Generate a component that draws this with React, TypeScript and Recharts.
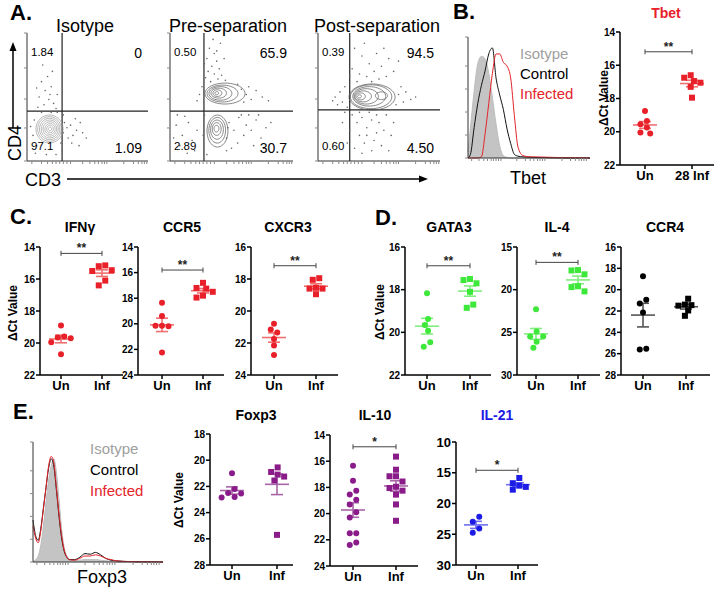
import React from "react";
import {
  ScatterChart,
  Scatter,
  XAxis,
  YAxis,
  ReferenceLine,
  ReferenceDot,
  ComposedChart,
  Area,
  Line,
} from "recharts";

const FONT = '"Liberation Sans", Arial, Helvetica, sans-serif';

// ---------- A. CD3 / CD4 flow plots (axis units 0-100)
const quadIsotype = ["1.84", "0", "97.1", "1.09"];
const quadPre = ["0.50", "65.9", "2.89", "30.7"];
const quadPost = ["0.39", "94.5", "0.60", "4.50"];

type Ring = [number, number, number, number]; // cx, cy, rx, ry

const ringsIsotype: Ring[] = [
  [18.6, 25, 11.2, 10.9], [18.6, 25, 9.8, 9.6], [18.7, 25, 8.4, 8.3], [18.8, 25, 7, 7],
  [18.9, 25, 5.6, 5.6], [19, 25, 4.2, 4.2], [19, 25, 2.8, 2.8], [19, 25, 1.4, 1.4],
];
const ringsPre: Ring[] = [
  [44.7, 52.7, 16.3, 8.2], [42.7, 52.7, 12.6, 6.6], [41, 52.8, 9.3, 5.3], [39.6, 53, 6.3, 3.9],
  [38.5, 53, 3.6, 2.6], [38, 53, 1.5, 1.2],
  [38.6, 23.4, 8.5, 12.5], [38.4, 24, 6.8, 10], [38.2, 24.5, 5.2, 7.5], [38, 25, 3.6, 5], [37.8, 25.3, 2, 2.6],
];
const ringsPost: Ring[] = [
  [44.3, 50, 18.9, 10.2], [43.5, 50.2, 17, 9.3], [42, 50.5, 13.5, 7.6], [39.5, 50.5, 10, 6],
  [37, 50.5, 6.8, 4.3], [35, 50.5, 3.8, 2.7], [34, 50.5, 1.6, 1.2], [52, 51, 5, 3],
];

const eventsIsotype: [number, number][] = [
  [12, 62], [15, 55], [20, 58], [10, 50], [18, 48], [22, 45], [14, 44], [25, 52], [8, 57], [17, 66],
  [21, 70], [13, 75], [24, 41], [9, 42], [19, 52], [5, 20], [6, 32], [8, 12], [30, 22], [31, 30],
  [28, 14], [25, 38], [12, 38], [20, 38], [33, 26], [29, 8], [7, 6], [16, 5], [24, 5], [3, 27],
  [34, 18], [30, 36], [36, 28], [38, 20], [41, 24], [44, 30], [37, 14], [40, 33], [46, 22], [49, 18], [43, 12],
];
const eventsPre: [number, number][] = [
  [32, 88], [36, 84], [30, 80], [38, 78], [34, 74], [40, 72], [31, 70], [36, 68], [42, 67], [29, 65],
  [33, 62], [45, 63], [38, 86], [41, 92], [35, 95], [28, 76], [44, 80], [39, 64], [58, 56], [62, 52],
  [66, 48], [70, 55], [60, 46], [75, 50], [55, 60], [80, 47], [64, 58], [24, 52], [26, 58], [22, 47],
  [48, 30], [52, 24], [56, 34], [60, 20], [55, 14], [62, 28], [66, 24], [70, 32], [74, 18], [68, 12],
  [78, 26], [50, 10], [58, 36], [72, 36], [82, 30], [46, 18], [64, 36], [76, 10], [5, 28], [10, 20],
  [15, 30], [8, 12], [12, 35], [18, 16], [3, 18], [20, 8], [14, 6], [22, 24], [6, 36], [28, 36],
  [47, 26], [30, 5], [46, 8], [27, 20],
];
const eventsPost: [number, number][] = [
  [30, 88], [36, 82], [42, 76], [48, 84], [28, 72], [34, 68], [40, 66], [46, 70], [52, 74], [58, 80],
  [38, 92], [44, 62], [56, 66], [62, 70], [32, 62], [26, 66], [50, 64], [66, 78], [54, 88], [14, 50],
  [18, 54], [20, 46], [16, 44], [22, 58], [12, 47], [24, 42], [66, 52], [70, 46], [64, 44], [72, 54],
  [76, 48], [68, 58], [80, 50], [28, 36], [32, 30], [36, 34], [40, 26], [44, 32], [48, 22], [34, 20],
  [38, 14], [42, 38], [46, 16], [50, 30], [54, 24], [30, 10], [36, 6], [44, 8], [52, 12], [56, 36],
  [60, 20], [58, 8], [62, 30], [40, 20], [26, 24], [48, 36], [34, 38], [20, 30], [24, 14], [22, 38],
];
const flowXTicks = [4, 12, 17, 21, 24, 27, 30, 33, 36, 46, 52, 56, 59, 62, 64, 66, 80, 88, 92, 95, 97, 99];
const flowYTicks = [0, 25.8, 48.4, 72.7, 100];

// ---------- B. Tbet histogram + qPCR
const tbetHistX = [0, 2, 5, 8, 11, 14, 17, 20, 23, 26, 29, 32, 35, 38, 41, 45, 50, 60, 70, 80, 90, 100];
const tbetIsotype = [5, 25, 55, 78, 84, 82, 70, 50, 28, 10, 2, 0.5, 0, 0, 0, 0, 0, 0, 0, 0, 0, 0];
const tbetControl = [0, 3, 25, 45, 60, 72, 86, 91, 66, 52, 40, 24, 12, 3, 1.5, 1, 0.6, 0.3, 0.2, 0, 0, 0];
const tbetInfected = [0, 0, 0, 0, 1, 20, 45, 70, 86, 86, 79, 76, 66, 35, 9, 2, 1, 0.8, 0.5, 0.3, 0.2, 0];
const histXTicks = [3, 9, 13, 16, 19, 21, 23, 25, 27, 40, 47, 51, 54, 57, 59, 61, 63, 77, 84, 88, 91, 93, 95, 97];

const tbetUn = [18.75, 19.35, 19.55, 19.75, 20.1, 20.05];
const tbetInf = [16.6, 16.75, 16.95, 17.05, 17.3, 17.95];

// ---------- C. Th1 genes
const ifngUn = [18.9, 19.65, 19.7, 19.6, 19.95, 20.7];
const ifngInf = [15.15, 15.2, 15.45, 15.5, 16.1, 16.4];
const ccr5Un = [18.35, 19.4, 20.15, 20.2, 20.15, 22.25];
const ccr5Inf = [16.8, 17.25, 17.2, 17.5, 17.95, 17.8];
const cxcr3Un = [20.8, 21.15, 21.35, 21.75, 22.15, 22.75];
const cxcr3Inf = [18.05, 17.95, 18.6, 18.55, 18.6, 18.95];

// ---------- D. Th2 genes
const gata3Un = [18.17, 19.38, 19.66, 19.92, 20.67, 20.47];
const gata3Inf = [17.5, 17.55, 17.7, 18.1, 18.7, 18.85];
const il4Un = [22.3, 24.9, 25.5, 25.5, 26.1, 26.8];
const il4Inf = [17.7, 17.75, 18.2, 19.6, 19.7, 20.2];
const ccr4Un = [18.75, 20.95, 21.3, 22.15, 25.6, 25.55];
const ccr4Inf = [20.85, 21.45, 21.5, 21.4, 21.95, 22.45];

// ---------- E. Foxp3 histogram + qPCR
const foxHistX = [0, 2, 4, 6, 8, 10, 12, 14, 16, 18, 20, 22, 24, 26, 28, 32, 36, 40, 44, 48, 52, 56, 60, 64, 70, 80, 100];
const foxIsotype = [0, 2, 5, 14, 30, 50, 68, 80, 86, 75, 52, 28, 12, 5, 2, 1, 1.5, 2, 2, 2, 1.5, 1, 0.5, 0, 0, 0, 0];
const foxControl = [35, 22, 18, 28, 45, 62, 78, 86, 80, 60, 38, 20, 9, 4, 2, 2, 4, 7, 6.5, 8, 6, 3, 1.5, 1, 0.5, 0.2, 0];
const foxInfected = [30, 20, 16, 26, 44, 62, 80, 88, 83, 62, 40, 22, 10, 4, 2, 1.5, 3, 5, 5, 6, 5, 3, 2, 1, 0.5, 0.2, 0];

const foxp3Un = [21.0, 22.2, 22.55, 22.5, 22.85, 22.8];
const foxp3Inf = [20.55, 20.9, 21.25, 21.1, 21.55, 25.7];
const il10Un = [16.35, 17.5, 18.25, 18.55, 18.95, 19.3, 19.9, 20.3, 21.5, 21.5, 22.2, 22.4];
const il10Inf = [15.65, 16.65, 17.15, 17.15, 17.55, 17.95, 18.05, 18.25, 18.55, 19.3, 20.55];
const il21Un = [22.15, 22.95, 24.05, 24.75];
const il21Inf = [15.85, 17.3, 17.1, 16.7, 17.75];

const RED = "#e8202a", RED_M = "#f07070";
const GREEN = "#3ee83a", GREEN_M = "#80ee7c";
const PURPLE = "#8a1c8a", PURPLE_M = "#a866a8";
const BLUE = "#1c1ce6", BLUE_M = "#7070ee";

function Txt({ x, y, size, bold, color = "#000", align = "center", rotate, children }: any) {
  const tx = align === "center" ? "-50%" : align === "right" ? "-100%" : "0";
  return (
    <div
      style={{
        position: "absolute", left: x, top: y, whiteSpace: "nowrap", lineHeight: 1,
        transform: `translate(${tx}, -50%)${rotate ? ` rotate(${rotate}deg)` : ""}`,
        fontSize: size, fontWeight: bold ? 700 : 400, color, fontFamily: FONT,
      }}
    >
      {children}
    </div>
  );
}

const noShape = () => <g />;

function ringPoints([cx, cy, rx, ry]: Ring) {
  const pts = [];
  for (let k = 0; k <= 48; k++) {
    const t = (k / 48) * Math.PI * 2;
    pts.push({ x: cx + rx * Math.cos(t), y: cy + ry * Math.sin(t) });
  }
  return pts;
}

function FlowPlot({ left, top, w, h, gx, gy, rings, events, quad, ringColor }: any) {
  const pts = events.map(([x, y]: [number, number]) => ({ x, y }));
  return (
    <>
      <div style={{ position: "absolute", left: left - 4, top: top - 1 }}>
        <ScatterChart width={4 + w + 1} height={1 + h + 4} margin={{ top: 1, right: 1, bottom: 0, left: 0 }}>
          <XAxis type="number" dataKey="x" domain={[0, 100]} ticks={flowXTicks} interval={0} tickFormatter={() => ""}
            height={4} tickSize={3} axisLine={{ stroke: "#333" }} tickLine={{ stroke: "#888" }} allowDataOverflow />
          <XAxis xAxisId="top" orientation="top" type="number" domain={[0, 100]} height={0}
            tick={false} tickLine={false} axisLine={{ stroke: "#333" }} />
          <YAxis type="number" dataKey="y" domain={[0, 100]} ticks={flowYTicks} interval={0} tickFormatter={() => ""}
            width={4} tickSize={3} axisLine={{ stroke: "#333" }} tickLine={{ stroke: "#888" }} allowDataOverflow />
          <YAxis yAxisId="right" orientation="right" type="number" domain={[0, 100]} width={0}
            tick={false} tickLine={false} axisLine={{ stroke: "#333" }} />
          <Scatter data={pts} isAnimationActive={false}
            shape={(p: any) => <circle cx={p.cx} cy={p.cy} r={0.8} fill="#666" />} />
          {rings.map((r: Ring, i: number) => (
            <Scatter key={i} data={ringPoints(r)} line={{ stroke: ringColor, strokeWidth: 0.7 }}
              lineType="joint" shape={noShape} isAnimationActive={false} />
          ))}
          <ReferenceLine x={gx} stroke="#222" strokeWidth={1.2} />
          <ReferenceLine y={gy} stroke="#222" strokeWidth={1.2} />
        </ScatterChart>
      </div>
      <Txt x={left + 4} y={53} size={11.5} align="left">{quad[0]}</Txt>
      <Txt x={left + w - 6} y={53} size={14} align="right">{quad[1]}</Txt>
      <Txt x={left + 4} y={147} size={11.5} align="left">{quad[2]}</Txt>
      <Txt x={left + w - 6} y={148} size={14} align="right">{quad[3]}</Txt>
    </>
  );
}

function Histo({ left, top, w, h, xs, iso, ctrl, inf }: any) {
  const data = xs.map((x: number, i: number) => ({ x, iso: iso[i], ctrl: ctrl[i], inf: inf[i] }));
  return (
    <div style={{ position: "absolute", left: left - 5, top: top - 1 }}>
      <ComposedChart width={5 + w + 1} height={1 + h + 5} data={data} margin={{ top: 1, right: 1, bottom: 0, left: 0 }}>
        <XAxis type="number" dataKey="x" domain={[0, 100]} ticks={histXTicks} interval={0} tickFormatter={() => ""}
          height={5} tickSize={3} axisLine={{ stroke: "#333" }} tickLine={{ stroke: "#888" }} />
        <XAxis xAxisId="top" orientation="top" type="number" domain={[0, 100]} height={0}
          tick={false} tickLine={false} axisLine={{ stroke: "#333" }} />
        <YAxis type="number" domain={[0, 100]} ticks={[0, 19, 38, 57, 76, 100]} interval={0} tickFormatter={() => ""}
          width={5} tickSize={3} axisLine={{ stroke: "#333" }} tickLine={{ stroke: "#888" }} />
        <YAxis yAxisId="right" orientation="right" type="number" domain={[0, 100]} width={0}
          tick={false} tickLine={false} axisLine={{ stroke: "#333" }} />
        <Area dataKey="iso" type="monotone" fill="#c4c4c4" fillOpacity={1} stroke="#bdbdbd" isAnimationActive={false} />
        <Line dataKey="ctrl" type="monotone" stroke="#111" strokeWidth={1} dot={false} isAnimationActive={false} />
        <Line dataKey="inf" type="monotone" stroke="#e3242b" strokeWidth={1} dot={false} isAnimationActive={false} />
      </ComposedChart>
    </div>
  );
}

// column scatter: nudge colliding points sideways, then centre each touching cluster
function swarm(vals: number[], pxY: number, d = 6.5) {
  const order = vals.map((_, i) => i).sort((a, b) => vals[a] - vals[b]);
  const off = vals.map(() => 0);
  const placed: { x: number; y: number }[] = [];
  const cands = [0, -d / 2, d / 2, -d, d, -1.5 * d, 1.5 * d, -2 * d, 2 * d];
  for (const i of order) {
    const y = vals[i] * pxY;
    for (const c of cands) {
      if (placed.every((p) => Math.hypot(p.x - c, p.y - y) >= d * 0.95)) {
        off[i] = c;
        placed.push({ x: c, y });
        break;
      }
    }
  }
  let k = 0;
  while (k < order.length) {
    const cl = [order[k]];
    let j = k + 1;
    while (j < order.length && (vals[order[j]] - vals[order[j - 1]]) * pxY < d) {
      cl.push(order[j]);
      j++;
    }
    const m = cl.reduce((a, idx) => a + off[idx], 0) / cl.length;
    cl.forEach((idx) => (off[idx] -= m));
    k = j;
  }
  return off;
}

const mean = (v: number[]) => v.reduce((a, b) => a + b, 0) / v.length;
const sem = (v: number[]) => {
  const m = mean(v);
  const sd = Math.sqrt(v.reduce((a, b) => a + (b - m) ** 2, 0) / (v.length - 1));
  return sd / Math.sqrt(v.length);
};

function DotPlot(p: any) {
  const YW = 34, MT = 12, XH = 28, MR = 2;
  const plotW = p.rightX - p.axisX, plotH = p.botY - p.topY;
  const unit = p.infX - p.unX;
  const xMin = 1 - (p.unX - p.axisX) / unit;
  const xMax = 2 + (p.rightX - p.infX) / unit;
  const pxY = plotH / (p.domain[1] - p.domain[0]);
  const groups = [p.un, p.inf].map((vals: number[], g: number) => {
    const off = swarm(vals, pxY);
    return {
      c: g + 1,
      pts: vals.map((v, i) => ({ x: g + 1 + off[i] / unit, y: v })),
      m: mean(vals),
      s: sem(vals),
    };
  });
  const ms = { stroke: p.meanColor, strokeWidth: 1.6 };
  const axisStyle = { stroke: "#000", strokeWidth: 1.5 };
  const tickFont = { fill: "#000", fontSize: p.tickFont || 10, fontWeight: 700, fontFamily: FONT };
  const cap = 2.5 / pxY;
  return (
    <div style={{ position: "absolute", left: p.axisX - YW, top: p.topY - MT }}>
      <ScatterChart width={YW + plotW + MR} height={MT + plotH + XH} margin={{ top: MT, right: MR, bottom: 0, left: 0 }}>
        <XAxis type="number" dataKey="x" domain={[xMin, xMax]} ticks={[1, 2]} interval={0} allowDataOverflow
          tickFormatter={(v: number) => (v === 1 ? p.cats[0] : p.cats[1])} height={XH} tickSize={4}
          axisLine={axisStyle} tickLine={axisStyle}
          tick={{ fill: "#000", fontSize: 13, fontWeight: 700, fontFamily: FONT }} />
        <YAxis type="number" dataKey="y" domain={p.domain} reversed ticks={p.ticks} interval={0} allowDataOverflow
          width={YW} tickSize={4} tickMargin={1} axisLine={axisStyle} tickLine={axisStyle} tick={tickFont} />
        {groups.map((g: any) => [
          <ReferenceLine key={`m${g.c}`} segment={[{ x: g.c - 12 / unit, y: g.m }, { x: g.c + 12 / unit, y: g.m }]} {...ms} />,
          <ReferenceLine key={`v${g.c}`} segment={[{ x: g.c, y: g.m - g.s }, { x: g.c, y: g.m + g.s }]} {...ms} />,
          <ReferenceLine key={`a${g.c}`} segment={[{ x: g.c - 6 / unit, y: g.m - g.s }, { x: g.c + 6 / unit, y: g.m - g.s }]} {...ms} />,
          <ReferenceLine key={`b${g.c}`} segment={[{ x: g.c - 6 / unit, y: g.m + g.s }, { x: g.c + 6 / unit, y: g.m + g.s }]} {...ms} />,
        ])}
        {p.bracket !== undefined && [
          <ReferenceLine key="br" segment={[{ x: 1, y: p.bracket }, { x: 2, y: p.bracket }]} stroke="#444" strokeWidth={1} />,
          <ReferenceLine key="bl" segment={[{ x: 1, y: p.bracket - cap }, { x: 1, y: p.bracket + cap }]} stroke="#444" strokeWidth={1} />,
          <ReferenceLine key="bR" segment={[{ x: 2, y: p.bracket - cap }, { x: 2, y: p.bracket + cap }]} stroke="#444" strokeWidth={1} />,
          <ReferenceDot key="st" x={1.5} y={p.bracket} r={0} fill="none" stroke="none"
            label={{ value: p.stars, position: "top", offset: 1, fill: "#222", fontSize: 12, fontWeight: 700, fontFamily: FONT }} />,
        ]}
        <Scatter data={groups[0].pts} isAnimationActive={false}
          shape={(s: any) => <circle cx={s.cx} cy={s.cy} r={3} fill={p.color} />} />
        <Scatter data={groups[1].pts} isAnimationActive={false}
          shape={(s: any) => <rect x={s.cx - 3} y={s.cy - 3} width={6} height={6} fill={p.color} />} />
      </ScatterChart>
    </div>
  );
}

export default function App() {
  const tick2 = (a: number, b: number) => {
    const out = [];
    for (let v = a; v <= b; v += 2) out.push(v);
    return out;
  };
  return (
    <div style={{ position: "absolute", left: 0, top: 0, width: 716, height: 592, background: "#fff", overflow: "hidden", fontFamily: FONT }}>
      <svg width={716} height={592} style={{ position: "absolute", left: 0, top: 0 }}>
        <line x1={13} y1={128} x2={13} y2={50} stroke="#000" strokeWidth={1.5} />
        <polygon points="9.5,51 16.5,51 13,42" fill="#000" />
        <line x1={67} y1={179} x2={420} y2={179} stroke="#000" strokeWidth={1.5} />
        <polygon points="419,175.5 419,182.5 428,179" fill="#000" />
      </svg>

      {/* A */}
      <Txt x={10} y={13} size={22} bold align="left">A.</Txt>
      <Txt x={85} y={26} size={18}>Isotype</Txt>
      <Txt x={228} y={26} size={18}>Pre-separation</Txt>
      <Txt x={377} y={26} size={18}>Post-separation</Txt>
      <FlowPlot left={27} top={33} w={121} h={128} gx={29} gy={39} rings={ringsIsotype} events={eventsIsotype} quad={quadIsotype} ringColor="#9a9a9a" />
      <FlowPlot left={170} top={33} w={123} h={128} gx={27.6} gy={39} rings={ringsPre} events={eventsPre} quad={quadPre} ringColor="#555" />
      <FlowPlot left={318} top={33} w={122} h={128} gx={26} gy={40} rings={ringsPost} events={eventsPost} quad={quadPost} ringColor="#555" />
      <Txt x={15} y={143} size={18} rotate={-90}>CD4</Txt>
      <Txt x={25} y={180} size={18} align="left">CD3</Txt>

      {/* B */}
      <Txt x={453} y={12} size={22} bold align="left">B.</Txt>
      <Histo left={468} top={37} w={122} h={121} xs={tbetHistX} iso={tbetIsotype} ctrl={tbetControl} inf={tbetInfected} />
      <Txt x={520} y={53} size={15} color="#a0a0a0" align="left">Isotype</Txt>
      <Txt x={520} y={73} size={15} align="left">Control</Txt>
      <Txt x={520} y={93} size={15} color="#e3242b" align="left">Infected</Txt>
      <Txt x={528} y={178} size={18}>Tbet</Txt>
      <Txt x={666} y={13} size={14} bold color={RED}>Tbet</Txt>
      <Txt x={604} y={98} size={12} bold rotate={-90}>ΔCt Value</Txt>
      <DotPlot axisX={620} topY={32} botY={165} unX={645} infX={692} rightX={714} domain={[14, 22]} ticks={tick2(14, 22)}
        un={tbetUn} inf={tbetInf} cats={["Un", "28 Inf"]} color={RED} meanColor={RED_M} bracket={15.19} stars="**" />

      {/* C */}
      <Txt x={10} y={217} size={22} bold align="left">C.</Txt>
      <Txt x={80} y={227} size={14} bold>IFNγ</Txt>
      <Txt x={182} y={227} size={14} bold>CCR5</Txt>
      <Txt x={288} y={227} size={14} bold>CXCR3</Txt>
      <Txt x={13} y={313} size={12} bold rotate={-90}>ΔCt Value</Txt>
      <DotPlot axisX={40} topY={247} botY={375} unX={61} infX={102} rightX={123} domain={[14, 22]} ticks={tick2(14, 22)}
        un={ifngUn} inf={ifngInf} cats={["Un", "Inf"]} color={RED} meanColor={RED_M} bracket={14.4} stars="**" />
      <DotPlot axisX={138} topY={247} botY={375} unX={162} infX={203} rightX={224} domain={[14, 24]} ticks={tick2(14, 24)}
        un={ccr5Un} inf={ccr5Inf} cats={["Un", "Inf"]} color={RED} meanColor={RED_M} bracket={15.8} stars="**" />
      <DotPlot axisX={251} topY={247} botY={375} unX={274} infX={316} rightX={338} domain={[16, 24]} ticks={tick2(16, 24)}
        un={cxcr3Un} inf={cxcr3Inf} cats={["Un", "Inf"]} color={RED} meanColor={RED_M} bracket={17.17} stars="**" />

      {/* D */}
      <Txt x={375} y={218} size={22} bold align="left">D.</Txt>
      <Txt x={449} y={227} size={14} bold>GATA3</Txt>
      <Txt x={557} y={227} size={14} bold>IL-4</Txt>
      <Txt x={665} y={227} size={14} bold>CCR4</Txt>
      <Txt x={380} y={312} size={12} bold rotate={-90}>ΔCt Value</Txt>
      <DotPlot axisX={405} topY={247} botY={375} unX={427} infX={470} rightX={491} domain={[16, 22]} ticks={tick2(16, 22)}
        un={gata3Un} inf={gata3Inf} cats={["Un", "Inf"]} color={GREEN} meanColor={GREEN_M} bracket={16.88} stars="**" />
      <DotPlot axisX={517} topY={247} botY={375} unX={536} infX={578} rightX={600} domain={[15, 30]} ticks={[15, 20, 25, 30]}
        un={il4Un} inf={il4Inf} cats={["Un", "Inf"]} color={GREEN} meanColor={GREEN_M} bracket={16.8} stars="**" />
      <DotPlot axisX={621} topY={247} botY={375} unX={643} infX={686} rightX={710} domain={[16, 28]} ticks={tick2(16, 28)}
        un={ccr4Un} inf={ccr4Inf} cats={["Un", "Inf"]} color="#000" meanColor="#555" />

      {/* E */}
      <Txt x={13} y={412} size={22} bold align="left">E.</Txt>
      <Histo left={33} top={442} w={130} h={120} xs={foxHistX} iso={foxIsotype} ctrl={foxControl} inf={foxInfected} />
      <Txt x={90} y={448} size={15} color="#a0a0a0" align="left">Isotype</Txt>
      <Txt x={90} y={469} size={15} align="left">Control</Txt>
      <Txt x={90} y={490} size={15} color="#e3242b" align="left">Infected</Txt>
      <Txt x={102} y={577} size={18}>Foxp3</Txt>
      <Txt x={256} y={415} size={14} bold>Foxp3</Txt>
      <Txt x={375} y={415} size={14} bold>IL-10</Txt>
      <Txt x={497} y={415} size={14} bold color={BLUE}>IL-21</Txt>
      <Txt x={179} y={500} size={12} bold rotate={-90}>ΔCt Value</Txt>
      <DotPlot axisX={210} topY={434} botY={565} unX={232} infX={277} rightX={293} domain={[18, 28]} ticks={tick2(18, 28)}
        un={foxp3Un} inf={foxp3Inf} cats={["Un", "Inf"]} color={PURPLE} meanColor={PURPLE_M} />
      <DotPlot axisX={330} topY={435} botY={566} unX={353} infX={396} rightX={418} domain={[14, 24]} ticks={tick2(14, 24)}
        un={il10Un} inf={il10Inf} cats={["Un", "Inf"]} color={PURPLE} meanColor={PURPLE_M} bracket={14.9} stars="*" />
      <DotPlot axisX={456} topY={442} botY={565} unX={476} infX={518} rightX={538} domain={[10, 30]} ticks={[10, 15, 20, 25, 30]}
        tickFont={13} un={il21Un} inf={il21Inf} cats={["Un", "Inf"]} color={BLUE} meanColor={BLUE_M} bracket={14.6} stars="*" />
    </div>
  );
}
